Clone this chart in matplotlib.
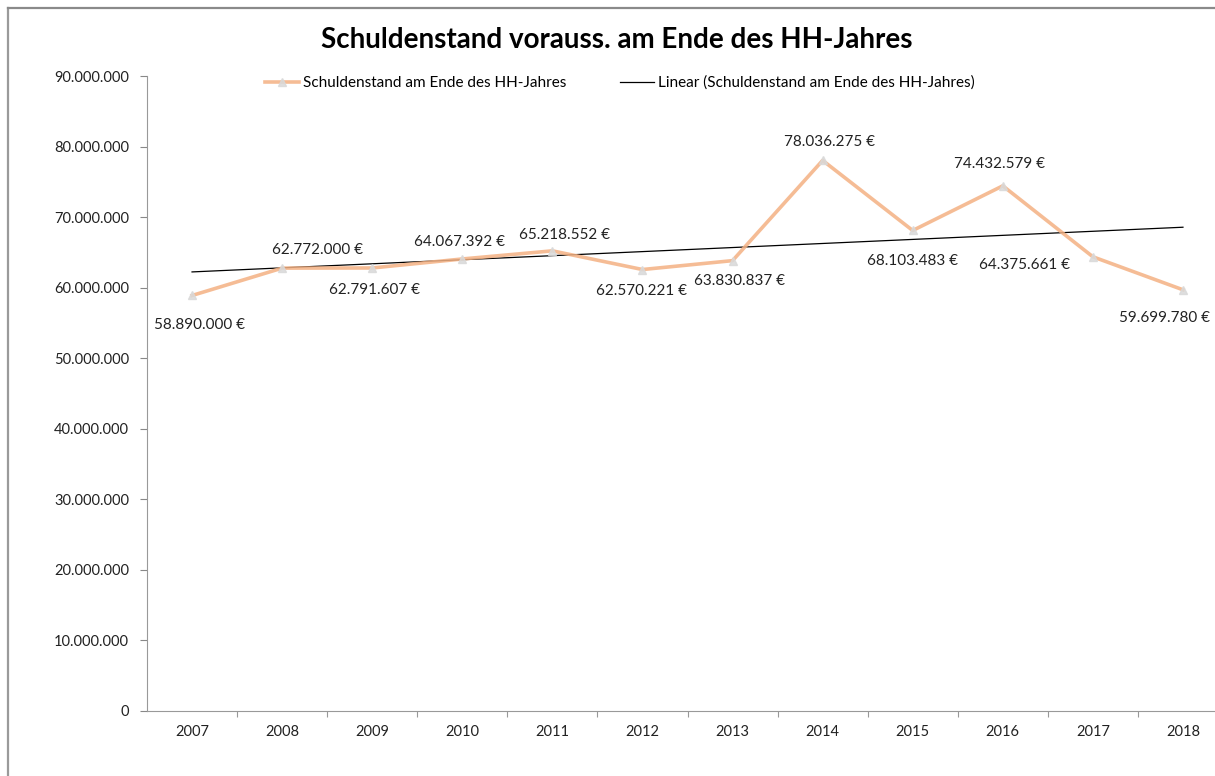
import numpy as np
import matplotlib
matplotlib.use("Agg")
import matplotlib.pyplot as plt
from matplotlib.lines import Line2D

# data
years = ["2007", "2008", "2009", "2010", "2011", "2012",
         "2013", "2014", "2015", "2016", "2017", "2018"]
debt = [58890000, 62772000, 62791607, 64067392, 65218552, 62570221,
        63830837, 78036275, 68103483, 74432579, 64375661, 59699780]

# where each value label sits relative to its point (pixels)
label_offsets = [(7, -30), (35, 18), (2, -22), (-3, 17), (12, 16), (-1, -21),
                 (7, -20), (7, 18), (0, -31), (-3, 22), (-68, -8), (-18, -28)]

plt.rcParams['font.family'] = ['Lato', 'DejaVu Sans']


def de_fmt(v):
    return f"{int(round(v)):,}".replace(",", ".")


fig = plt.figure(figsize=(12.15, 7.76), dpi=100)
ax = fig.add_axes([147 / 1215, 65 / 776, 1081 / 1215, 635 / 776])

x = np.arange(len(years))
line_col = '#F4B183'
ax.plot(x, debt, color=line_col, lw=2.6, alpha=0.85, marker='^', ms=6,
        mfc='#D9D9D9', mec='#D9D9D9', label='Schuldenstand am Ende des HH-Jahres',
        zorder=3)

# linear trendline
k, d = np.polyfit(x, debt, 1)
ax.plot(x, k * x + d, color='black', lw=0.9,
        label='Linear (Schuldenstand am Ende des HH-Jahres)', zorder=2)

for xi, v, off in zip(x, debt, label_offsets):
    ax.annotate(de_fmt(v) + " €", (xi, v), xytext=off, textcoords='offset pixels',
                ha='center', va='center', fontsize=11, color='#222222')

ax.set_xlim(-0.5, len(years) - 0.5)
ax.set_ylim(0, 90000000)
ax.set_yticks(np.arange(0, 90000001, 10000000))
ax.set_yticklabels([de_fmt(t) for t in np.arange(0, 90000001, 10000000)])
ax.set_xticks(x)
ax.set_xticklabels(years)
ax.set_xticks(np.arange(0.5, len(years) - 1, 1), minor=True)
ax.tick_params(axis='y', labelsize=10.5, colors='#888888', labelcolor='#222222',
               length=5, width=0.8, pad=8)
ax.tick_params(axis='x', which='major', labelsize=10.5, length=0,
               labelcolor='#222222', pad=10)
ax.tick_params(axis='x', which='minor', length=4, width=0.8, colors='#999999')
for s in ['top', 'right']:
    ax.spines[s].set_visible(False)
for s in ['left', 'bottom']:
    ax.spines[s].set_color('#999999')
    ax.spines[s].set_linewidth(0.8)

fig.text(0.508, 0.948, 'Schuldenstand vorauss. am Ende des HH-Jahres',
         ha='center', va='center', fontsize=20, fontweight='bold')

ax.legend(loc='center', bbox_to_anchor=(620 / 1215, 1 - 83 / 776),
          bbox_transform=fig.transFigure, ncol=2, frameon=False, fontsize=11,
          handlelength=2.2, handletextpad=0.3, columnspacing=3.5)

# chart area border (only top and left are inside the picture)
fig.add_artist(Line2D([8 / 1215, 8 / 1215], [0, 1 - 8 / 776],
                      transform=fig.transFigure, color='#9A9A9A', lw=1.6))
fig.add_artist(Line2D([8 / 1215, 1], [1 - 8 / 776, 1 - 8 / 776],
                      transform=fig.transFigure, color='#8A8A8A', lw=1.6))

fig.savefig('out.png', dpi=100)
